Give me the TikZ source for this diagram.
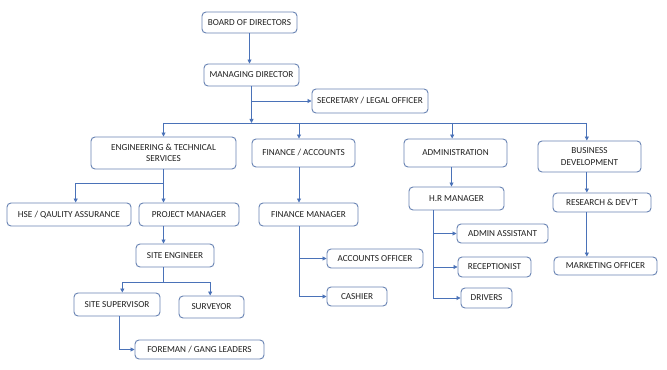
\documentclass[tikz,border=0pt]{standalone}
\usepackage{fontspec}
\setmainfont{Carlito}
\usetikzlibrary{arrows.meta}
\definecolor{lnblue}{HTML}{4A72B8}
\definecolor{bxblue}{HTML}{6A84B4}
\definecolor{txgray}{HTML}{202020}
\tikzset{
  box/.style={draw=bxblue,rounded corners=3pt,line width=0.7pt,fill=white,
    text=txgray,font=\fontsize{6.9}{8.6}\selectfont,inner sep=1pt,align=center},
  sz/.style 2 args={minimum width=#1*0.75pt,minimum height=#2*0.75pt},
  link/.style={draw=lnblue,line width=0.6pt},
  arr/.style={link,-{Triangle[width=3pt,length=3pt]}}
}
\begin{document}
\begin{tikzpicture}[x=0.75pt,y=-0.75pt]
  \useasboundingbox[fill=white](0,0)rectangle(667,370);
  % top levels
  \node[box,sz={95}{21}] (bod) at (249.5,22.5){BOARD OF DIRECTORS};
  \node[box,sz={95}{22}] (md) at (251.5,75){MANAGING DIRECTOR};
  \node[box,sz={116}{24}] (sec) at (370,101){SECRETARY / LEGAL OFFICER};
  % departments
  \node[box,sz={145}{32}] (eng) at (163.5,153){ENGINEERING \& TECHNICAL\\SERVICES};
  \node[box,sz={103}{28}] (fa) at (303.5,153){FINANCE / ACCOUNTS};
  \node[box,sz={103}{28}] (adm) at (455.5,153){ADMINISTRATION};
  \node[box,sz={103}{31}] (bd) at (589.5,156.5){BUSINESS\\DEVELOPMENT};
  % engineering branch
  \node[box,sz={124}{23}] (hse) at (69,214.5){HSE / QAULITY ASSURANCE};
  \node[box,sz={100}{23}] (pm) at (189,214.5){PROJECT MANAGER};
  \node[box,sz={78}{23}] (se) at (175,255.5){SITE ENGINEER};
  \node[box,sz={86}{23}] (sup) at (117,304.5){SITE SUPERVISOR};
  \node[box,sz={65}{22}] (sur) at (211.5,307){SURVEYOR};
  \node[box,sz={129}{19}] (fore) at (199.5,349.5){FOREMAN / GANG LEADERS};
  % finance branch
  \node[box,sz={99}{23}] (fm) at (308.5,214.5){FINANCE MANAGER};
  \node[box,sz={96}{19}] (ao) at (375,258.5){ACCOUNTS OFFICER};
  \node[box,sz={60}{19}] (cas) at (357,296.5){CASHIER};
  % administration branch
  \node[box,sz={95}{23}] (hr) at (456.5,198.5){H.R MANAGER};
  \node[box,sz={91}{19}] (aa) at (502.5,233.5){ADMIN ASSISTANT};
  \node[box,sz={73}{20}] (rec) at (494.5,267){RECEPTIONIST};
  \node[box,sz={51}{20}] (drv) at (486.5,298){DRIVERS};
  % business development branch
  \node[box,sz={98}{19}] (rd) at (602,202.5){RESEARCH \& DEV'T};
  \node[box,sz={103}{18}] (mo) at (605.5,266){MARKETING OFFICER};
  % connector helpers
  \coordinate (bar) at (248,123);
  \coordinate (fx) at (299,0);
  % top connectors
  \draw[arr] (bod.south) -- (bod.south |- md.north);
  \draw[arr] (md.south) -- (md.south |- bar);
  \draw[arr] (md.south |- sec.west) -- (sec.west);
  \draw[link] (eng.north |- bar) -- ([xshift=-2pt]bd.north |- bar);
  \draw[arr] (eng.north |- bar) -- (eng.north);
  \draw[arr] (fx |- bar) -- (fa.north -| fx);
  \draw[arr] ([xshift=-2.5pt]adm.north |- bar) -- ([xshift=-2.5pt]adm.north);
  \draw[arr] ([xshift=-2pt]bd.north |- bar) -- ([xshift=-2pt]bd.north);
  % engineering
  \draw[arr] (eng.south) -- (eng.south |- pm.north);
  \draw[arr] (eng.south) ++(0,14) -| ([xshift=5pt]hse.north);
  \draw[arr] (eng.south |- pm.south) -- (eng.south |- se.north);
  \draw[link] (eng.south |- se.south) -- ++(0,15) coordinate (sj);
  \draw[arr] (sj) -| ([xshift=4pt]sup.north);
  \draw[arr] (sj) -| ([xshift=-1pt]sur.north);
  \draw[arr] ([xshift=2pt]sup.south) |- (fore.west);
  % finance
  \draw[arr] (fa.south -| fx) -- (fm.north -| fx);
  \draw[arr] (fm.south -| fx) |- (ao.west);
  \draw[arr] (fm.south -| fx) |- (cas.west);
  % administration
  \draw[arr] ([xshift=-3pt]adm.south) -- ([xshift=-3pt]adm.south |- hr.north);
  \draw[arr] ([xshift=-17pt]hr.south) |- (aa.west);
  \draw[arr] ([xshift=-17pt]hr.south) |- (rec.west);
  \draw[arr] ([xshift=-17pt]hr.south) |- (drv.west);
  % business development
  \draw[arr] ([xshift=-2pt]bd.south) -- ([xshift=-2pt]bd.south |- rd.north);
  \draw[arr] ([xshift=-2pt]bd.south |- rd.south) -- ([xshift=-2pt]bd.south |- mo.north);
\end{tikzpicture}
\end{document}
